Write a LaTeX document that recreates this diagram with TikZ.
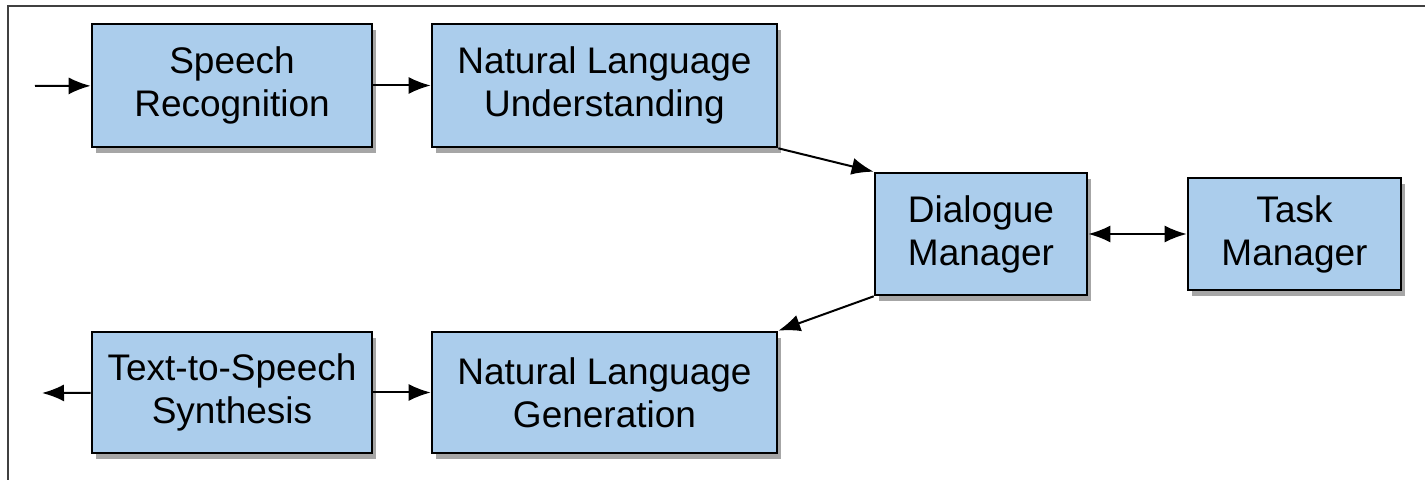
\documentclass[tikz,border=0pt]{standalone}
\usepackage{fontspec}
\setmainfont{Liberation Sans}
\usetikzlibrary{arrows.meta,shadows}
\definecolor{boxblue}{RGB}{171,205,236}

\begin{document}
\begin{tikzpicture}[x=0.5pt,y=-0.5pt,>={Latex[length=11pt,width=8.5pt]},
  blk/.style={draw,line width=1.3pt,fill=boxblue,align=center,inner sep=0pt,
    font=\fontsize{18.5}{21.5}\selectfont,
    drop shadow={shadow xshift=2pt,shadow yshift=-3pt,opacity=0.7}},
  link/.style={->,line width=1pt}]
\useasboundingbox (0,0) rectangle (1425,480);
\draw[black!75,line width=0.6pt] (1425,6)--(8,6)--(8,480);
% top row
\node[blk,minimum width=140pt,minimum height=61.5pt] (sr) at (232,85.5){Speech\\Recognition};
\node[blk,minimum width=172.5pt,minimum height=61.5pt] (nlu) at (604.5,85.5){Natural Language\\Understanding};
% middle
\node[blk,minimum width=106pt,minimum height=61pt] (dm) at (981,234){Dialogue\\Manager};
\node[blk,minimum width=106.5pt,minimum height=56pt] (tm) at (1294.5,234){Task\\Manager};
% bottom row
\node[blk,minimum width=140pt,minimum height=60.5pt] (tts) at (232,392.5){Text-to-Speech\\Synthesis};
\node[blk,minimum width=172.5pt,minimum height=60.5pt] (nlg) at (604.5,392.5){Natural Language\\Generation};
\coordinate (in) at (35,86); \coordinate (out) at (42,393);
\draw[link] (in)--(sr); \draw[link] (sr)--(nlu);
\draw[link] (nlu.south east)--(dm.north west);
\draw[link] (dm.south west)--(nlg.north east);
\draw[link,<->] (dm)--(tm);
\draw[link] (tts)--(out); \draw[link] (tts)--(nlg);
\end{tikzpicture}
\end{document}
